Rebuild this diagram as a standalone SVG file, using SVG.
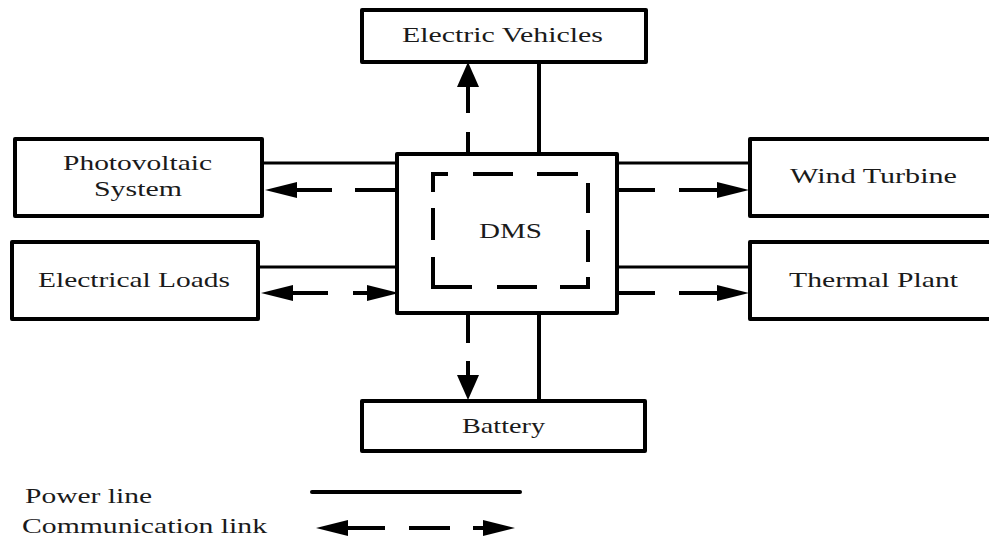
<svg xmlns="http://www.w3.org/2000/svg" width="989" height="540" viewBox="0 0 989 540">
  <style>
    .box { fill: #ffffff; stroke: #000000; stroke-width: 4; stroke-linejoin: round; }
    .lbl { font-family: "Liberation Serif", "Times New Roman", serif; font-size: 21px; fill: #1a1a1a; text-anchor: middle; }
    .leg { font-family: "Liberation Serif", "Times New Roman", serif; font-size: 21px; fill: #1a1a1a; }
    .ph { stroke: #000000; stroke-width: 3; fill: none; }
    .pv { stroke: #000000; stroke-width: 4; fill: none; }
    .comm { stroke: #000000; stroke-width: 4; fill: none; }
  </style>
  <defs>
    <marker id="ah" markerUnits="userSpaceOnUse" markerWidth="34" markerHeight="18" refX="0" refY="8" orient="auto-start-reverse" overflow="visible">
      <path d="M0,0 L32,8 L0,16 Z" fill="#000000"/>
    </marker>
    <marker id="av" markerUnits="userSpaceOnUse" markerWidth="27" markerHeight="24" refX="0" refY="11" orient="auto-start-reverse" overflow="visible">
      <path d="M0,0 L25,11 L0,22 Z" fill="#000000"/>
    </marker>
  </defs>

  <g id="connectors">
    <!-- power lines -->
    <line class="ph" x1="262" y1="163" x2="397" y2="163"/>
    <line class="ph" x1="258" y1="267" x2="397" y2="267"/>
    <line class="ph" x1="617" y1="163" x2="750" y2="163"/>
    <line class="ph" x1="617" y1="267" x2="750" y2="267"/>
    <line class="pv" x1="539" y1="62" x2="539" y2="154"/>
    <line class="pv" x1="539" y1="313" x2="539" y2="401"/>
    <!-- communication links -->
    <line class="comm" x1="397" y1="190" x2="297" y2="190" stroke-dasharray="42 23 35" marker-end="url(#ah)"/>
    <line class="comm" x1="293" y1="293" x2="367" y2="293" stroke-dasharray="35 25 14" marker-start="url(#ah)" marker-end="url(#ah)"/>
    <line class="comm" x1="617" y1="190" x2="717" y2="190" stroke-dasharray="38 24 38" marker-end="url(#ah)"/>
    <line class="comm" x1="617" y1="293" x2="717" y2="293" stroke-dasharray="38 24 38" marker-end="url(#ah)"/>
    <line class="comm" x1="468" y1="154" x2="468" y2="87" stroke-dasharray="22 19 26" marker-end="url(#av)"/>
    <line class="comm" x1="468" y1="313" x2="468" y2="375" stroke-dasharray="30 18 14" marker-end="url(#av)"/>
  </g>

  <g id="node-ev">
    <rect class="box" x="362" y="10" width="284" height="52"/>
    <text class="lbl" x="502.5" y="42" textLength="201" lengthAdjust="spacingAndGlyphs">Electric Vehicles</text>
  </g>
  <g id="node-pv">
    <rect class="box" x="15" y="139" width="247" height="77"/>
    <text class="lbl" x="137.5" y="170" textLength="149" lengthAdjust="spacingAndGlyphs">Photovoltaic</text>
    <text class="lbl" x="138" y="196" textLength="88" lengthAdjust="spacingAndGlyphs">System</text>
  </g>
  <g id="node-loads">
    <rect class="box" x="12" y="242" width="246" height="77"/>
    <text class="lbl" x="134" y="287" textLength="192" lengthAdjust="spacingAndGlyphs">Electrical Loads</text>
  </g>
  <g id="node-wind">
    <rect class="box" x="750" y="139" width="260" height="77"/>
    <text class="lbl" x="873.5" y="183" textLength="167" lengthAdjust="spacingAndGlyphs">Wind Turbine</text>
  </g>
  <g id="node-thermal">
    <rect class="box" x="750" y="242" width="260" height="77"/>
    <text class="lbl" x="873.5" y="287" textLength="169" lengthAdjust="spacingAndGlyphs">Thermal Plant</text>
  </g>
  <g id="node-dms">
    <rect class="box" x="397" y="154" width="220" height="159"/>
    <path d="M433,192 L433,174 L588,174 L588,287 L433,287 Z" fill="none" stroke="#000000" stroke-width="4" stroke-dasharray="33 25 40 24 41 19 30 17 32 15 38 23 40 25 69 17 32 16"/>
    <text class="lbl" x="510.5" y="238" textLength="63" lengthAdjust="spacingAndGlyphs">DMS</text>
  </g>
  <g id="node-battery">
    <rect class="box" x="362" y="401" width="283" height="50"/>
    <text class="lbl" x="503.5" y="433" textLength="83" lengthAdjust="spacingAndGlyphs">Battery</text>
  </g>

  <g id="legend">
    <text class="leg" x="25" y="503" textLength="127" lengthAdjust="spacingAndGlyphs">Power line</text>
    <text class="leg" x="22" y="533" textLength="245" lengthAdjust="spacingAndGlyphs">Communication link</text>
    <line x1="312" y1="492" x2="520" y2="492" stroke="#000000" stroke-width="4" stroke-linecap="round"/>
    <line class="comm" x1="348" y1="528" x2="483" y2="528" stroke-dasharray="37 24 41 23 10" marker-start="url(#ah)" marker-end="url(#ah)"/>
  </g>
</svg>
